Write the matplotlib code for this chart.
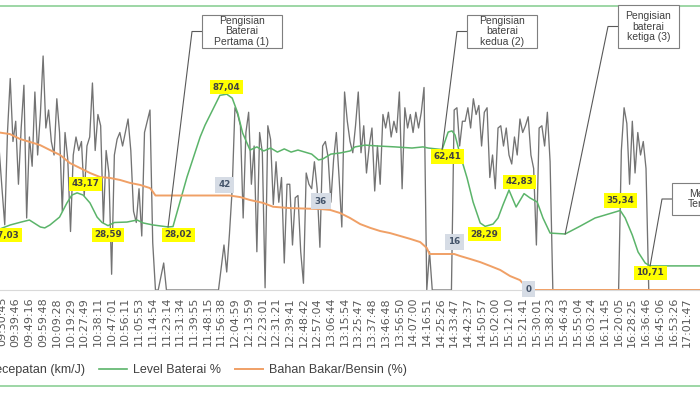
import matplotlib
matplotlib.use("Agg")
import matplotlib.pyplot as plt
from matplotlib.lines import Line2D
from matplotlib.patches import Rectangle
from matplotlib.transforms import IdentityTransform
import numpy as np

plt.rcParams['font.family'] = ['Liberation Sans', 'DejaVu Sans']

# time labels on the category axis (one every 5 samples)
tick_labels = ["09:30:45", "09:39:46", "09:49:16", "09:59:48", "10:09:28", "10:19:29",
               "10:27:49", "10:38:11", "10:47:01", "10:56:11", "11:05:53", "11:14:54",
               "11:23:14", "11:31:34", "11:39:55", "11:48:15", "11:56:38", "12:04:59",
               "12:13:59", "12:23:01", "12:31:21", "12:39:41", "12:48:42", "12:57:04",
               "13:06:44", "13:15:54", "13:25:47", "13:37:48", "13:46:48", "13:56:50",
               "14:07:00", "14:16:51", "14:25:26", "14:33:47", "14:42:37", "14:50:57",
               "15:02:00", "15:12:10", "15:21:41", "15:30:01", "15:38:23", "15:46:43",
               "15:55:04", "16:03:24", "16:11:45", "16:20:05", "16:28:25", "16:36:46",
               "16:45:06", "16:53:26", "17:01:47"]

# Kecepatan (km/J), samples -1 .. 255
speed = [62, 45, 29, 70, 94, 66, 75, 47, 72, 91, 32, 68, 55, 88, 60, 78, 104, 72, 80, 66,
         60, 85, 70, 35, 70, 58, 26, 60, 68, 62, 66, 42, 64, 68, 92, 62, 78, 73, 30, 62,
         52, 7, 60, 67,
         70, 64, 70, 76, 62, 35, 30, 45, 24, 70, 75, 80, 21,
         0, 0, 6, 12, 0, 0, 0, 0, 0, 0, 0, 0, 0, 0, 0, 0, 0, 0, 0, 0, 0, 0, 0, 0,
         10, 20, 8, 25, 45, 81,
         78, 73, 32, 70, 79, 47, 64, 17, 70, 61, 1, 73, 67, 38, 57, 39, 50, 12, 47, 47,
         20, 41, 42, 17, 3, 52, 47, 45, 57, 45, 19, 64, 66, 59, 39, 58, 70, 50, 28, 88, 75,
         66, 61, 73, 88, 61, 73, 52, 64, 72, 44, 64, 47, 78, 72, 79, 68, 75, 70, 88, 45,
         81, 72, 78, 70, 79, 72, 79, 90,
         0, 17, 0, 0, 0, 0, 0, 0, 0, 0,
         80, 81, 64, 75, 75, 81, 72, 85, 78, 82, 64, 79, 81, 50, 60, 45, 72, 73, 64, 72,
         60, 56, 68, 60, 76, 70, 73, 77, 60, 54, 20, 72, 73, 64, 79, 57,
         0, 0, 0, 0, 0, 0, 0, 0, 0, 0, 0, 0, 0, 0, 0, 0, 0, 0, 0, 0, 0, 0, 0, 0, 0,
         62, 81, 74, 47, 75, 52, 70, 60, 66, 54,
         0, 0, 0, 0, 0, 0, 0, 0, 0, 0, 0, 0, 0, 0, 0, 0, 0, 0, 0, 0]
speed_idx = np.arange(-1, 256)

# Level Baterai %
bat_x = [-1, 3, 7, 10, 14, 15.6, 17.5, 21, 23.7, 25.5, 27.4, 29.6, 32.1, 34.7, 36.5, 38.7,
         41, 45.6, 49.3, 51.5, 55.1, 60.6, 62.4, 67.5, 72.3, 74.1, 79.5, 82, 84, 86, 87.8,
         90.5, 93, 95.5, 98, 100.5, 103, 105.5, 108, 110.5, 113, 115.5, 117, 120, 123.4,
         127, 128.8, 132.5, 137.2, 143.4, 149.6, 153.6, 155.5, 160.6, 162.8, 164.2, 165.3,
         167.2, 169.7, 171.9, 174.5, 176.3, 179.2, 181, 182.8, 185, 187.6, 190.5, 192.7,
         195.3, 197.4, 200, 205.5, 211, 216.4, 225.6, 227.4, 230, 232.1, 234.7, 236.5, 255]
bat_v = [27.03, 28.9, 30.2, 31.1, 28.0, 27.6, 28.9, 32.4, 38.7, 42.2, 43.17, 42.2, 38.7,
         32.4, 30.0, 28.59, 30.0, 30.2, 31.1, 29.8, 28.9, 28.02, 28.2, 50.2, 68.0, 73.3,
         86.5, 87.04, 85.3, 78.7, 69.8, 62.2, 63.6, 61.8, 63.1, 61.3, 62.7, 61.3, 62.2,
         61.3, 60.4, 57.8, 58.2, 60.4, 60.9, 61.8, 63.6, 64.4, 64.0, 63.6, 63.1, 63.6,
         63.1, 62.41, 70.2, 70.7, 68.9, 60.0, 49.8, 39.1, 29.8, 28.29, 29.3, 32.0, 37.8,
         44.4, 36.9, 42.83, 40.9, 39.1, 32.0, 25.3, 24.9, 28.4, 32.0, 35.34, 32.0, 24.4,
         16.9, 12.0, 10.71, 10.71]

# Bahan Bakar/Bensin (%)
fuel_x = [-1, 2.9, 6.6, 10.2, 13.9, 17.5, 21.2, 24.8, 28.5, 32.1, 35.8, 39.4, 43.1, 46.7,
          50.4, 54, 55.1, 56, 83, 86.9, 90.5, 95.3, 98.9, 105, 116, 119.7, 123.4, 127,
          130.7, 134.4, 138, 141.6, 145.3, 149, 152.6, 155, 156, 165, 167.2, 170.8, 174.5,
          178.1, 181.8, 185.4, 189, 190.8, 192, 255]
fuel_v = [70, 69.3, 67.1, 65.8, 64.4, 62.2, 60, 56.4, 54.2, 52, 50.2, 49.8, 48.9, 47.6,
          46.7, 45.3, 43.6, 42, 42, 41.3, 40, 38.7, 37, 36.4, 36, 35.6, 34.2, 32, 29.3,
          27.6, 26.2, 25.3, 24, 22.7, 21.3, 18.7, 16, 16, 15.1, 13.8, 12.4, 10.7, 8.9,
          6.2, 4.4, 2, 0, 0]

# data labels: index of the point and pixel offset of the label
bat_lbl_x = [-1, 27.4, 38.7, 60.6, 82, 160.6, 176.3, 190.5, 225.6, 236.5]
bat_lbl_off = [(6, -6), (8, 9), (0, -9), (10, -8), (0, 7), (5, -7), (-1, -8), (-5, 12), (0, 10), (0, -7)]
fuel_lbl_x = [82, 116, 165, 192]
fuel_lbl_off = [(-2, 11), (1, 8), (0, 12), (0, 1)]

# callouts: text, box (left, top, right, bottom) in pixels, target point
callout_text = ["Pengisian\nBaterai\nPertama (1)", "Pengisian\nbaterai\nkedua (2)",
                "Pengisian\nbaterai\nketiga (3)", "Mesin\nTerlalu"]
callout_box = [(202, 15, 282, 48), (467, 15, 537, 48), (618, 5, 679, 48), (672, 183, 734, 215)]
callout_target = [(60.6, 28.02), (160.6, 62.41), (205.5, 24.9), (236.5, 10.71)]

W, H = 700, 393
fig = plt.figure(figsize=(W / 100, H / 100), dpi=100)
ax = fig.add_axes([0, (H - 290) / H, 1, 270 / H])

ax.plot(speed_idx, speed, color='#737373', lw=0.95, zorder=2)
ax.plot(bat_x, bat_v, color='#5bb46a', lw=1.1, zorder=3)
ax.plot(fuel_x, fuel_v, color='#f0a066', lw=1.4, zorder=4)

ax.set_xlim(-0.73, 254.7)
ax.set_ylim(0, 120)
ax.set_xticks(np.arange(0, 5 * len(tick_labels), 5))
ax.set_xticklabels(tick_labels, rotation=90, fontsize=8, color='#595959',
                   family=['DejaVu Sans'])
ax.tick_params(axis='x', length=0, pad=5)
ax.set_yticks([])
for s in ['top', 'left', 'right']:
    ax.spines[s].set_visible(False)
ax.spines['bottom'].set_color('#d9d9d9')

for xi, (dx, dy) in zip(bat_lbl_x, bat_lbl_off):
    v = bat_v[bat_x.index(xi)]
    ax.annotate(f"{v:.2f}".replace('.', ','), xy=(xi, v), xytext=(dx, dy),
                textcoords='offset pixels', ha='center', va='center', fontsize=6.3,
                fontweight='bold', color='#404040', zorder=6, annotation_clip=False,
                family=['DejaVu Sans'],
                bbox=dict(boxstyle='square,pad=0.3', fc='#ffff00', ec='none'))
for xi, (dx, dy) in zip(fuel_lbl_x, fuel_lbl_off):
    v = np.interp(xi, fuel_x, fuel_v)
    ax.annotate(f"{v:.0f}", xy=(xi, v), xytext=(dx, dy),
                textcoords='offset pixels', ha='center', va='center', fontsize=6.3,
                fontweight='bold', color='#44546a', zorder=6, family=['DejaVu Sans'],
                bbox=dict(boxstyle='square,pad=0.4', fc='#d6dce5', ec='none'))

# callout boxes with leader lines (pixel coordinates, origin top-left)
ident = IdentityTransform()
for txt, (l, t, r, b), (tx, tv) in zip(callout_text, callout_box, callout_target):
    ex, ey = ax.transData.transform((tx, tv))
    ym = (t + b) / 2
    fig.add_artist(Line2D([l, l - 10, ex], [H - ym, H - ym, ey], color='#595959',
                          lw=0.8, transform=ident, zorder=7))
    fig.add_artist(Rectangle((l, H - b), r - l, b - t, fc='white', ec='#7f7f7f',
                             lw=0.8, transform=ident, zorder=8))
    fig.text((l + r) / 2 / W, 1 - ym / H, txt, ha='center', va='center', fontsize=7.5,
             color='#404040', linespacing=1.05, zorder=9)

# green frame lines
fig.add_artist(Line2D([0, 1], [1 - 6 / H, 1 - 6 / H], color='#8ccf96', lw=1.2))
fig.add_artist(Line2D([0, 1], [1 - 386 / H, 1 - 386 / H], color='#8ccf96', lw=1.2))

handles = [Line2D([], [], color='#737373', lw=1.2),
           Line2D([], [], color='#5bb46a', lw=1.2),
           Line2D([], [], color='#f0a066', lw=1.4)]
fig.legend(handles, ["Kecepatan (km/J)", "Level Baterai %", "Bahan Bakar/Bensin (%)"],
           ncol=3, loc='center left', bbox_to_anchor=(-47 / W, 1 - 370 / H),
           frameon=False, fontsize=9, handlelength=2.25, handletextpad=0.48,
           columnspacing=1.1, borderpad=0, borderaxespad=0, labelcolor='#404040')

fig.savefig("out.png", dpi=100)
